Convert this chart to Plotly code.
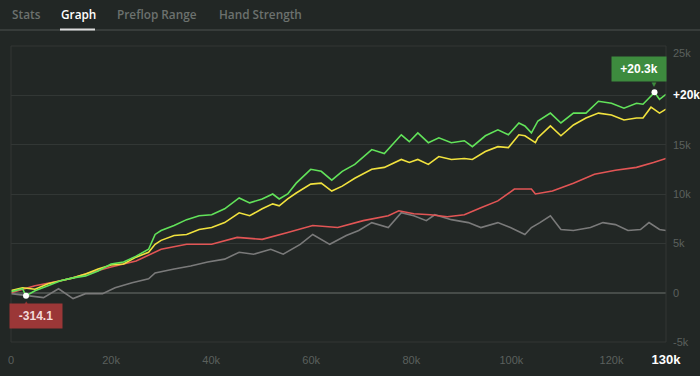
import plotly.graph_objects as go

# ---------------- data (hands, winnings) ----------------
green_hands = [0, 2.3, 3.0, 4.8, 7.4, 9.9, 12.4, 14.9, 17.4, 20.0, 22.5, 25.0, 27.5, 28.8, 30.0, 32.6, 35.1, 37.6,
               40.1, 42.7, 45.6, 47.7, 50.2, 52.3, 53.6, 55.3, 57.0, 59.9, 62.0, 64.1, 66.2, 68.7, 72.1, 74.6,
               78.0, 79.6, 81.3, 83.4, 85.5, 88.0, 90.6, 92.2, 94.8, 97.3, 99.4, 101.5, 102.7, 104.0, 105.3,
               107.8, 109.9, 112.4, 114.9, 117.4, 120.0, 122.5, 125.0, 126.3, 128.6, 129.6, 130.9]
green_vals = [100, 400, -314.1, 200, 700, 1200, 1500, 1700, 2200, 2900, 3100, 3700, 4400, 5900, 6300, 6800, 7400, 7800,
              7900, 8500, 9600, 9100, 9500, 10000, 9500, 10000, 11100, 12500, 12300, 11400, 12300, 13000, 14500, 14100,
              16000, 15300, 16200, 15200, 15700, 15200, 15400, 14800, 15900, 16500, 16000, 17200, 16900, 16200, 17400,
              18200, 17200, 18200, 18200, 19400, 19200, 18700, 19200, 19100, 20300, 19600, 20100]

yellow_hands = [0, 2.3, 4.8, 7.4, 9.9, 12.4, 14.9, 17.4, 20.0, 22.5, 25.0, 27.5, 28.8, 30.0, 32.6, 35.1, 37.6, 40.1,
                42.7, 45.6, 47.7, 50.2, 52.3, 53.6, 55.3, 57.0, 59.9, 62.0, 64.1, 66.2, 68.7, 72.1, 74.6, 78.0,
                79.6, 81.3, 83.4, 85.5, 88.0, 90.6, 92.2, 94.8, 97.3, 99.4, 101.5, 102.7, 104.8, 105.3, 107.8,
                109.9, 112.4, 114.9, 117.4, 120.0, 122.5, 125.0, 126.3, 127.9, 129.6, 130.9]
yellow_vals = [200, 500, 350, 900, 1200, 1500, 1900, 2400, 2800, 2900, 3600, 4100, 4900, 5300, 5800, 5900, 6400, 6600,
               7100, 8100, 7800, 8500, 9000, 8800, 9500, 10100, 11000, 11100, 10300, 10800, 11600, 12500, 12700, 13500,
               13200, 13500, 13000, 13800, 13500, 13600, 13500, 14300, 14800, 14700, 16000, 15900, 15200, 15700, 16900,
               15900, 17000, 17700, 18200, 18000, 17500, 17700, 17700, 18800, 18200, 18600]

red_hands = [0, 4.8, 9.9, 12.4, 14.9, 20.0, 25.0, 30.0, 35.1, 40.1, 45.2, 50.2, 55.3, 60.3, 65.3, 70.4, 75.4, 77.5,
             80.5, 83.8, 87.2, 90.6, 93.9, 97.3, 100.6, 104.0, 104.8, 108.2, 112.4, 116.6, 120.8, 125.0, 128.4, 130.9]
red_vals = [0, 700, 1200, 1500, 1900, 2600, 3200, 4400, 4900, 4900, 5600, 5400, 6100, 6800, 6600, 7300, 7800, 8300,
            8000, 7900, 7700, 7900, 8600, 9300, 10500, 10500, 10000, 10300, 11100, 12000, 12400, 12700, 13200, 13600]

gray_hands = [0, 3.2, 6.5, 9.5, 12.4, 14.9, 18.3, 20.8, 24.2, 27.5, 28.8, 32.6, 35.9, 39.3, 42.7, 45.6, 48.5, 51.9,
              54.4, 57.8, 60.3, 63.7, 67.0, 69.5, 72.1, 75.4, 78.0, 80.5, 83.0, 84.7, 88.0, 91.4, 93.9, 97.3, 99.8,
              102.7, 104.0, 105.7, 107.8, 109.9, 112.4, 115.8, 118.3, 120.8, 123.3, 125.8, 127.5, 129.6, 130.9]
gray_vals = [-100, -300, -500, 400, -600, -100, -100, 500, 1000, 1400, 2000, 2400, 2700, 3100, 3400, 4100, 3900, 4400,
             3900, 4900, 5900, 4900, 5800, 6300, 7100, 6600, 8100, 7800, 7300, 7900, 7400, 7100, 6600, 7100, 6600,
             5900, 6600, 7100, 7800, 6400, 6300, 6600, 7100, 6900, 6300, 6400, 7100, 6400, 6300]

x_tick_vals = [0, 20, 40, 60, 80, 100, 120]
x_tick_text = ["0", "20k", "40k", "60k", "80k", "100k", "120k"]
y_tick_vals = [-5000, 0, 5000, 10000, 15000, 20000, 25000]
y_tick_text = ["-5k", "0", "5k", "10k", "15k", "+20k", "25k"]
tabs = ["Stats", "Graph", "Preflop Range", "Hand Strength"]
active_tab = "Graph"

# ---------------- style ----------------
BG = "#222725"
GRID = "#323735"
LABEL = "#5b605d"
W, H = 700, 376
L, R, T, B = 11, 34, 46, 34
PW, PH = W - L - R, H - T - B


def px(x):
    return (x - L) / PW


def py(y):
    return (H - B - y) / PH


fig = go.Figure()
series = [
    (gray_hands, gray_vals, "#7a7a7a"),
    (red_hands, red_vals, "#e25555"),
    (yellow_hands, yellow_vals, "#f1e23e"),
    (green_hands, green_vals, "#62e35a"),
]
for hx, hv, col in series:
    fig.add_trace(go.Scatter(x=hx, y=hv, mode="lines", line=dict(color=col, width=1.6),
                             hoverinfo="skip", showlegend=False))

imax = max(range(len(green_vals)), key=lambda i: green_vals[i])
imin = min(range(len(green_vals)), key=lambda i: green_vals[i])
fig.add_trace(go.Scatter(x=[green_hands[imax], green_hands[imin]], y=[green_vals[imax], green_vals[imin]],
                         mode="markers", marker=dict(color="white", size=6), hoverinfo="skip", showlegend=False))

x_end = green_hands[-1]
ytext = []
for v, t in zip(y_tick_vals, y_tick_text):
    if v == 20000:
        ytext.append("<span style='color:#ffffff;font-size:12px'><b>" + t + "</b></span>")
    elif v == 25000:
        ytext.append(" <br>" + t)
    else:
        ytext.append(t)

fig.update_xaxes(range=[0, x_end], tickvals=x_tick_vals + [x_end],
                 ticktext=x_tick_text + ["<span style='color:#ffffff;font-size:13px'><b>130k</b></span>"],
                 showgrid=False, zeroline=False, showline=False, ticks="", automargin=False,
                 tickfont=dict(color=LABEL, size=11, family="Liberation Sans"), ticklabelstandoff=10)
fig.update_yaxes(range=[-5000, 25000], side="right", tickvals=y_tick_vals, ticktext=ytext,
                 showgrid=True, gridcolor=GRID, gridwidth=1, zeroline=True, zerolinecolor="#474c49",
                 zerolinewidth=1.5, showline=False, ticks="", automargin=False,
                 tickfont=dict(color=LABEL, size=11, family="Liberation Sans"), ticklabelstandoff=6)

shapes = [
    dict(type="rect", xref="paper", yref="paper", x0=0, x1=1, y0=0, y1=1,
         line=dict(color=GRID, width=1), fillcolor="rgba(0,0,0,0)"),
    dict(type="line", xref="paper", yref="paper", x0=px(0), x1=px(W), y0=py(30), y1=py(30),
         line=dict(color="#373c3a", width=2)),
    dict(type="line", xref="paper", yref="paper", x0=px(60), x1=px(95), y0=py(29.5), y1=py(29.5),
         line=dict(color="#dcdcdc", width=2)),
]

annotations = []
tab_x = [10, 59, 115, 217]
for t, x in zip(tabs, tab_x):
    annotations.append(dict(text=t, xref="paper", yref="paper", x=px(x), y=py(14), xanchor="left",
                            yanchor="middle", showarrow=False,
                            font=dict(family="Open Sans", size=11.8, weight=600,
                                      color="#ffffff" if t == active_tab else "#6c716e")))

# callouts
gmax, gmin = green_vals[imax], green_vals[imin]
annotations.append(dict(x=green_hands[imax], y=gmax, xref="x", yref="y", text="<b>+%.1fk</b>" % (gmax / 1000),
                        showarrow=False, xshift=-15, yshift=23, bgcolor="#3d8b3e", borderpad=5,
                        font=dict(color="white", size=12, family="Liberation Sans"), width=44, height=14))
annotations.append(dict(x=green_hands[imax], y=gmax, xref="x", yref="y", text="▼", showarrow=False,
                        yshift=9, font=dict(color="#3d8b3e", size=8)))
annotations.append(dict(x=green_hands[imin], y=gmin, xref="x", yref="y", text="<b>%.1f</b>" % gmin,
                        showarrow=False, xshift=10, yshift=-20, bgcolor="#9b3737", borderpad=5,
                        font=dict(color="#f2dada", size=12, family="Liberation Sans"), width=42, height=14))
annotations.append(dict(x=green_hands[imin], y=gmin, xref="x", yref="y", text="▲", showarrow=False,
                        yshift=-7, font=dict(color="#9b3737", size=8)))

fig.update_layout(width=W, height=H, margin=dict(l=L, r=R, t=T, b=B), paper_bgcolor=BG, plot_bgcolor=BG,
                  shapes=shapes, annotations=annotations, showlegend=False, hovermode=False)
fig.write_html("out.html", config={"displayModeBar": False},
               post_script="document.body.style.margin='0';document.body.style.overflow='hidden';"
                           "document.body.style.background='" + BG + "';")
